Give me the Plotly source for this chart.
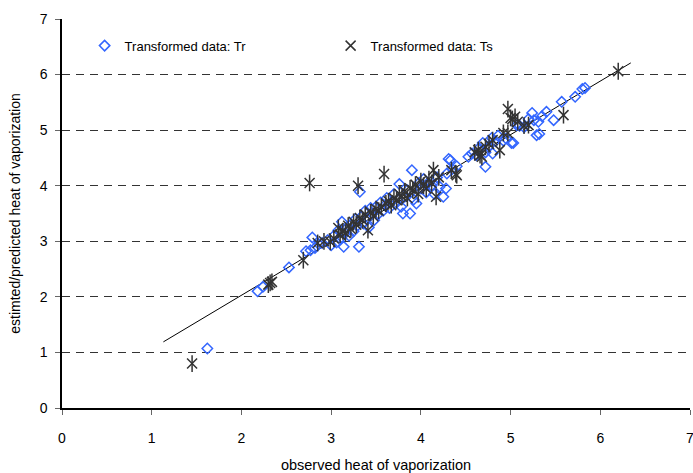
import plotly.graph_objects as go

# Transformed data: Tr (observed, predicted)
tr_x = [1.62, 2.18, 2.24, 2.53, 2.72, 2.77, 2.79, 2.82, 2.86, 2.90, 2.96, 3.00, 3.03, 3.06, 3.08,
        3.10, 3.12, 3.14, 3.16, 3.18, 3.20, 3.22, 3.25, 3.27, 3.29, 3.31, 3.32, 3.34, 3.36, 3.38,
        3.40, 3.42, 3.44, 3.46, 3.48, 3.50, 3.52, 3.55, 3.58, 3.60, 3.62, 3.65, 3.68, 3.70, 3.72,
        3.76, 3.78, 3.80, 3.82, 3.85, 3.88, 3.90, 3.92, 3.95, 3.98, 4.00, 4.03, 4.06, 4.08, 4.12,
        4.15, 4.18, 4.21, 4.25, 4.28, 4.29, 4.31, 4.33, 4.35, 4.40, 4.53, 4.57, 4.62, 4.65, 4.69,
        4.72, 4.72, 4.75, 4.79, 4.80, 4.83, 4.86, 4.92, 4.95, 5.01, 5.03, 5.07, 5.10, 5.15, 5.20,
        5.24, 5.26, 5.29, 5.31, 5.32, 5.35, 5.40, 5.48, 5.57, 5.72, 5.80, 5.83]
tr_y = [1.07, 2.10, 2.18, 2.53, 2.82, 2.84, 3.07, 2.88, 2.95, 2.97, 3.02, 2.93, 3.10, 2.98, 3.20,
        3.05, 3.35, 2.90, 3.15, 3.25, 3.10, 3.30, 3.18, 3.40, 3.28, 2.90, 3.89, 3.45, 3.32, 3.55,
        3.40, 3.25, 3.60, 3.50, 3.38, 3.62, 3.48, 3.70, 3.55, 3.65, 3.78, 3.60, 3.72, 3.85, 3.68,
        4.03, 3.62, 3.50, 3.80, 3.92, 3.50, 4.28, 3.75, 3.68, 4.05, 3.95, 4.12, 3.88, 4.05, 4.00,
        3.85, 4.15, 3.98, 3.80, 3.95, 4.22, 4.48, 4.46, 4.30, 4.35, 4.52, 4.58, 4.55, 4.68, 4.77,
        4.34, 4.60, 4.70, 4.86, 4.58, 4.80, 4.90, 4.81, 4.85, 4.77, 4.77, 5.09, 5.08, 5.05, 5.20,
        5.31, 5.18, 4.91, 5.15, 4.93, 5.25, 5.33, 5.18, 5.51, 5.60, 5.74, 5.76]

# Transformed data: Ts (observed, predicted)
ts_x = [1.45, 2.30, 2.32, 2.34, 2.69, 2.76, 2.85, 2.92, 2.99, 3.03, 3.08, 3.10, 3.13, 3.16, 3.19,
        3.22, 3.25, 3.28, 3.30, 3.32, 3.35, 3.38, 3.41, 3.44, 3.47, 3.50, 3.53, 3.56, 3.59, 3.61,
        3.64, 3.67, 3.70, 3.73, 3.76, 3.79, 3.82, 3.85, 3.88, 3.91, 3.94, 3.97, 4.00, 4.03, 4.06,
        4.09, 4.12, 4.14, 4.17, 4.20, 4.34, 4.39, 4.40, 4.60, 4.64, 4.66, 4.68, 4.72, 4.76, 4.80,
        4.88, 4.92, 4.97, 4.97, 5.00, 5.02, 5.05, 5.08, 5.15, 5.20, 5.59, 6.20]
ts_y = [0.80, 2.22, 2.25, 2.27, 2.66, 4.05, 2.97, 3.00, 2.99, 3.05, 3.24, 3.12, 3.18, 3.15, 3.28,
        3.22, 3.35, 3.30, 4.00, 3.42, 3.38, 3.48, 3.20, 3.52, 3.45, 3.58, 3.55, 3.62, 4.21, 3.68,
        3.72, 3.65, 3.78, 3.74, 3.85, 3.80, 3.90, 3.78, 3.95, 3.92, 4.02, 3.85, 4.08, 4.00, 3.95,
        4.12, 4.05, 4.28, 3.80, 4.15, 4.28, 4.21, 4.19, 4.60, 4.64, 4.55, 4.52, 4.70, 4.75, 4.82,
        4.64, 4.95, 5.38, 4.95, 5.22, 5.20, 5.24, 5.15, 5.08, 5.09, 5.27, 6.06]

# Trend line end points
trend_x = [1.13, 6.34]
trend_y = [1.19, 6.21]

x_ticks = [0, 1, 2, 3, 4, 5, 6, 7]
y_ticks = [0, 1, 2, 3, 4, 5, 6, 7]

FONT = "Liberation Sans, Arial, sans-serif"
TS_COLOR = "#333333"
TR_COLOR = "#3366FF"

fig = go.Figure()
fig.add_trace(go.Scatter(
    x=trend_x, y=trend_y, mode="lines", line=dict(color="black", width=1),
    showlegend=False, hoverinfo="skip"))
fig.add_trace(go.Scatter(
    x=tr_x, y=tr_y, mode="markers", name="Transformed data: Tr",
    marker=dict(symbol="diamond-open", size=8, color=TR_COLOR, line=dict(width=1.5, color=TR_COLOR))))
fig.add_trace(go.Scatter(
    x=ts_x, y=ts_y, mode="markers", name="Transformed data: Ts", legendgroup="ts",
    marker=dict(symbol="x-thin-open", size=10, color=TS_COLOR, line=dict(width=1.5, color=TS_COLOR))))
fig.add_trace(go.Scatter(
    x=ts_x, y=ts_y, mode="markers", name="Transformed data: Ts", legendgroup="ts", showlegend=False,
    marker=dict(symbol="line-ns-open", size=12, color=TS_COLOR, line=dict(width=1.5, color=TS_COLOR))))

fig.update_layout(
    width=693, height=473,
    margin=dict(l=62, r=3, t=19, b=65),
    paper_bgcolor="white", plot_bgcolor="white",
    font=dict(family=FONT, size=14, color="black"),
    legend=dict(orientation="h", x=0.036, y=0.97, xanchor="left", yanchor="top",
                bgcolor="rgba(0,0,0,0)", font=dict(size=13), entrywidth=201, entrywidthmode="pixels"),
    xaxis=dict(range=[0, 7], tickvals=x_ticks, showgrid=False, zeroline=False, automargin=False,
               showline=True, linecolor="black", linewidth=1.5,
               ticks="outside", ticklen=5, tickcolor="#666", tickwidth=1,
               ticklabelstandoff=11, tickfont=dict(size=14), ticklabeloverflow="allow",
               title=dict(text="observed heat of vaporization", font=dict(size=14.5), standoff=16)),
    yaxis=dict(range=[0, 7], tickvals=y_ticks, showgrid=True, gridcolor="#333", griddash="8px,6px",
               gridwidth=1, zeroline=False, automargin=False,
               showline=True, linecolor="black", linewidth=1.5,
               ticks="outside", ticklen=5, tickcolor="#666", tickwidth=1,
               ticklabelstandoff=5, tickfont=dict(size=14), ticklabeloverflow="allow",
               title=dict(text="estimted/predicted heat of vaporization", font=dict(size=14), standoff=16)),
)

fig.write_html("out.html", config={"displayModeBar": False},
               post_script="document.body.style.margin='0';document.body.style.overflow='hidden';")
